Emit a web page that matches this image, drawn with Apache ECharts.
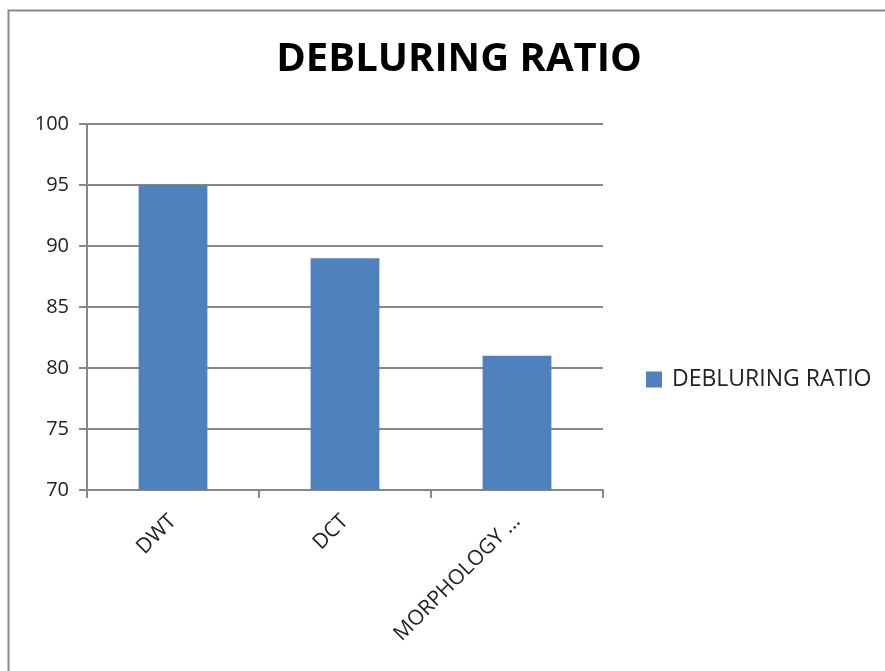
<!DOCTYPE html>
<html><head><meta charset="utf-8">
<script src="https://cdn.jsdelivr.net/npm/echarts@6/dist/echarts.min.js"></script>
<style>html,body{margin:0;padding:0;background:#fff}#c{width:885px;height:671px}</style>
</head><body><div id="c"></div>
<script>
const titleText = 'DEBLURING RATIO';
const seriesName = 'DEBLURING RATIO';
const categories = ['DWT', 'DCT', 'MORPHOLOGY ...'];
const values = [95, 89, 81];
const yMin = 70, yMax = 100, yStep = 5;

const chart = echarts.init(document.getElementById('c'), null, {renderer: 'canvas'});
const font = '"Open Sans", "DejaVu Sans", sans-serif';
chart.setOption({
  animation: false,
  backgroundColor: '#fff',
  graphic: [{type: 'rect', left: 6, top: 8, shape: {width: 900, height: 700}, style: {fill: 'none', stroke: '#8a8a8a', lineWidth: 2}, silent: true}],
  title: {text: titleText, left: 454, top: 35, textAlign: 'center',
    textStyle: {fontFamily: font, fontWeight: 'bold', fontSize: 40, color: '#000'}},
  legend: {orient: 'vertical', left: 641, top: 363, itemWidth: 16, itemHeight: 16, itemGap: 10,
    icon: 'rect', textStyle: {fontFamily: font, fontSize: 23, color: '#222', padding: [0, 0, 0, 5]}, data: [seriesName]},
  grid: {left: 87, right: 282, top: 124, bottom: 181, containLabel: false},
  xAxis: {type: 'category', data: categories,
    axisLine: {lineStyle: {color: '#878787', width: 2}},
    axisTick: {show: true, length: 8, lineStyle: {color: '#878787', width: 2}, alignWithLabel: false},
    axisLabel: {rotate: 45, margin: 28, fontFamily: font, fontSize: 21, color: '#222', interval: 0}},
  yAxis: {type: 'value', min: yMin, max: yMax, interval: yStep,
    axisLine: {show: true, lineStyle: {color: '#878787', width: 2}},
    axisTick: {show: true, length: 8, lineStyle: {color: '#878787', width: 2}},
    splitLine: {lineStyle: {color: '#878787', width: 2}},
    axisLabel: {margin: 18, fontFamily: font, fontSize: 20, color: '#222'}},
  series: [{name: seriesName, type: 'bar', data: values, barCategoryGap: '60%',
    itemStyle: {color: '#4f81bd'}}]
});
</script></body></html>
